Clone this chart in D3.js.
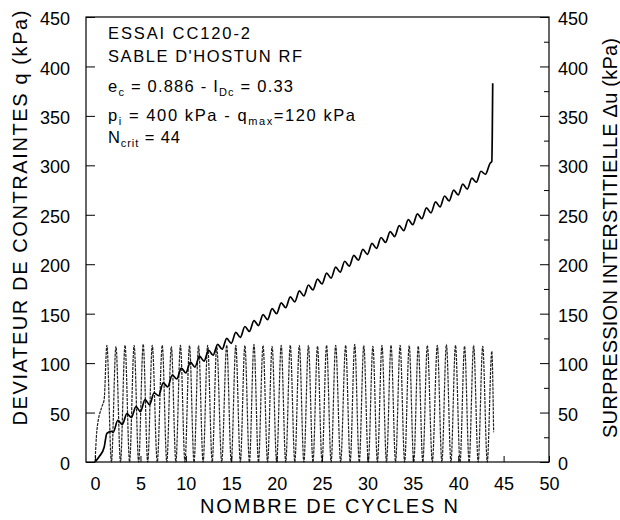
<!DOCTYPE html>
<html>
<head>
<meta charset="utf-8">
<script src="https://cdn.jsdelivr.net/npm/d3@7"></script>
<style>
  html, body { margin: 0; padding: 0; background: #fff; }
  svg { display: block; font-family: "Liberation Sans", Arial, Helvetica, sans-serif; }
</style>
</head>
<body>
<svg id="chart" width="620" height="520"></svg>
<script>
// ---- Data ----
// Deviator stress q (kPa) vs number of cycles N (peaks / troughs of each cycle)
const qN = [0, 0.2, 0.75, 1.0,
  1.3, 1.8, 2.3, 2.8, 3.3, 3.8, 4.3, 4.8, 5.3, 5.8,
  6.3, 6.85, 7.4, 7.9, 8.4, 8.9, 9.4, 9.9, 10.4, 10.9,
  11.4, 11.9, 12.4, 12.9, 13.4, 13.95, 14.5, 15.0, 15.5, 16.0,
  16.5, 17.0, 17.5, 18.0, 18.5, 19.0, 19.5, 20.0, 20.5, 21.0,
  21.5, 22.0, 22.5, 23.0, 23.5, 24.0, 24.5, 25.0, 25.5, 26.0,
  26.5, 27.05, 27.6, 28.1, 28.6, 29.1, 29.6, 30.1, 30.6, 31.1,
  31.6, 32.1, 32.6, 33.1, 33.6, 34.1, 34.6, 35.1, 35.6, 36.1,
  36.6, 37.15, 37.7, 38.2, 38.7, 39.2, 39.7, 40.2, 40.7, 41.2,
  41.7, 42.2, 42.7, 43.2, 43.7, 43.9];
const qVal = [0, 32, 56, 63,
  118, 0, 117, 0, 118, 0, 118, 0, 119, 0,
  118, 0, 118, 0, 117, 0, 118, 0, 118, 0,
  118, 0, 118, 0, 117, 0, 118, 0, 118, 0,
  118, 0, 119, 0, 118, 0, 117, 0, 118, 0,
  118, 0, 118, 0, 118, 0, 117, 0, 118, 0,
  118, 0, 118, 0, 119, 0, 118, 0, 117, 0,
  118, 0, 118, 0, 118, 0, 118, 0, 117, 0,
  118, 0, 118, 0, 119, 0, 118, 0, 117, 0,
  118, 0, 117, 0, 112, 30];

// Excess pore pressure Δu (kPa) vs N
const duN = [0, 0.5, 1.0, 1.3, 1.8, 2.0,
  2.5, 3, 3.5, 4, 4.5, 5, 5.5, 6, 6.5, 7,
  7.5, 8, 8.5, 9, 9.5, 10, 10.5, 11, 11.5, 12,
  12.5, 13, 13.5, 14, 14.5, 15, 15.5, 16, 16.5, 17,
  17.5, 18, 18.5, 19, 19.5, 20, 20.5, 21, 21.5, 22,
  22.5, 23, 23.5, 24, 24.5, 25, 25.5, 26, 26.5, 27,
  27.5, 28, 28.5, 29, 29.5, 30, 30.5, 31, 31.5, 32,
  32.5, 33, 33.5, 34, 34.5, 35, 35.5, 36, 36.5, 37,
  37.5, 38, 38.5, 39, 39.5, 40, 40.5, 41, 41.5, 42,
  42.5, 43, 43.5, 43.7, 43.75, 43.8];
const duVal = [0, 6, 15, 29, 31, 30,
  42, 38, 49, 45, 56, 51, 63, 58, 70, 67,
  80, 76, 88, 84, 95, 90, 101, 96, 107, 102,
  113, 108, 119, 114, 125, 120, 131, 126, 137, 132,
  143, 138, 149, 144, 155, 150, 161, 156, 167, 162,
  173, 168, 179, 174, 185, 180, 191, 186, 197, 192,
  203, 198, 209, 204, 215, 210, 221, 216, 227, 222,
  233, 228, 239, 234, 245, 240, 251, 246, 257, 252,
  263, 258, 269, 264, 275, 270, 281, 276, 287, 283,
  294, 291, 302, 304, 330, 383];

// Tick labels
const xTicks = [0, 5, 10, 15, 20, 25, 30, 35, 40, 45, 50];
const yTicks = [0, 50, 100, 150, 200, 250, 300, 350, 400, 450];
const yMinorTicks = [25, 75, 125, 175, 225, 275, 325, 375, 425];

// Texts
const xTitle = "NOMBRE DE CYCLES N";
const yLeftTitle = "DEVIATEUR DE CONTRAINTES q (kPa)";
const yRightTitle = "SURPRESSION INTERSTITIELLE \u0394u (kPa)";

// ---- Drawing ----
const svg = d3.select("#chart");
svg.append("rect").attr("width", 620).attr("height", 520).attr("fill", "#fff");

const x = d3.scaleLinear().domain([-1, 50]).range([86, 549]);
const y = d3.scaleLinear().domain([0, 450]).range([462, 17]);

// q series
const qData = qN.map((n, i) => [n, qVal[i]]);
svg.append("path")
  .datum(qData)
  .attr("fill", "none")
  .attr("stroke", "#222")
  .attr("stroke-width", 1.2)
  .attr("stroke-dasharray", "3,1")
  .attr("d", d3.line().x(d => x(d[0])).y(d => y(d[1])).curve(d3.curveMonotoneX));

// Δu series
const duData = duN.map((n, i) => [n, duVal[i]]);
svg.append("path")
  .datum(duData)
  .attr("fill", "none")
  .attr("stroke", "#000")
  .attr("stroke-width", 1.7)
  .attr("stroke-linejoin", "round")
  .attr("d", d3.line().x(d => x(d[0])).y(d => y(d[1])).curve(d3.curveMonotoneX));

// Frame
svg.append("rect")
  .attr("x", x(-1)).attr("y", y(450))
  .attr("width", x(50) - x(-1)).attr("height", y(0) - y(450))
  .attr("fill", "none").attr("stroke", "#000").attr("stroke-width", 1.2);

const tickFont = 18;
// Left axis
const gL = svg.append("g").attr("transform", `translate(${x(-1)},0)`)
  .call(d3.axisLeft(y).tickValues(yTicks).tickSize(-9).tickPadding(16).tickFormat(d3.format("d")));
// Right axis
const gR = svg.append("g").attr("transform", `translate(${x(50)},0)`)
  .call(d3.axisRight(y).tickValues(yTicks).tickSize(-9).tickPadding(9).tickFormat(d3.format("d")));
const gRm = svg.append("g").attr("transform", `translate(${x(50)},0)`)
  .call(d3.axisRight(y).tickValues(yMinorTicks).tickSize(-5).tickFormat(""));
// Bottom axis
const gB = svg.append("g").attr("transform", `translate(0,${y(0)})`)
  .call(d3.axisBottom(x).tickValues(xTicks).tickSize(-6).tickPadding(15).tickFormat(d3.format("d")));

[gL, gR, gRm, gB].forEach(g => {
  g.select(".domain").remove();
  g.selectAll("line").attr("stroke", "#000");
  g.selectAll("text").attr("fill", "#000").style("font-size", tickFont + "px")
    .style("font-family", "'Liberation Sans', Arial, sans-serif");
});
gL.selectAll("text").attr("dy", "0.42em");
gR.selectAll("text").attr("dy", "0.42em");

// Axis titles
svg.append("text")
  .attr("transform", "translate(27,218) rotate(-90)")
  .attr("text-anchor", "middle")
  .attr("textLength", 415).attr("lengthAdjust", "spacing")
  .style("font-size", "20px")
  .text(yLeftTitle);
svg.append("text")
  .attr("transform", "translate(617,238) rotate(-90)")
  .attr("text-anchor", "middle")
  .attr("textLength", 400).attr("lengthAdjust", "spacing")
  .style("font-size", "20px")
  .text(yRightTitle);
svg.append("text")
  .attr("x", 329).attr("y", 513)
  .attr("text-anchor", "middle")
  .attr("textLength", 258).attr("lengthAdjust", "spacing")
  .style("font-size", "20px")
  .text(xTitle);

// Annotation block
const annoX = 108;
const subSize = "11px";
function anno(yBase, parts, len) {
  const t = svg.append("text").attr("x", annoX).attr("y", yBase)
    .style("font-size", "16.5px").attr("fill", "#000");
  if (len) t.attr("textLength", len).attr("lengthAdjust", "spacing");
  parts.forEach(p => {
    const ts = t.append("tspan").text(p.t);
    if (p.sub) ts.style("font-size", subSize).attr("dy", 4);
    if (p.back) ts.attr("dy", -4);
  });
}
anno(39, [{t: "ESSAI CC120-2"}], 142);
anno(62, [{t: "SABLE D'HOSTUN RF"}], 194);
anno(92, [{t: "e"}, {t: "c", sub: true}, {t: " = 0.886 - I", back: true}, {t: "Dc", sub: true}, {t: " = 0.33", back: true}], 185);
anno(121, [{t: "p"}, {t: "i", sub: true}, {t: " = 400 kPa - q", back: true}, {t: "max", sub: true}, {t: "=120 kPa", back: true}], 247);
anno(143, [{t: "N"}, {t: "crit", sub: true}, {t: " = 44", back: true}], 72);
</script>
</body>
</html>
